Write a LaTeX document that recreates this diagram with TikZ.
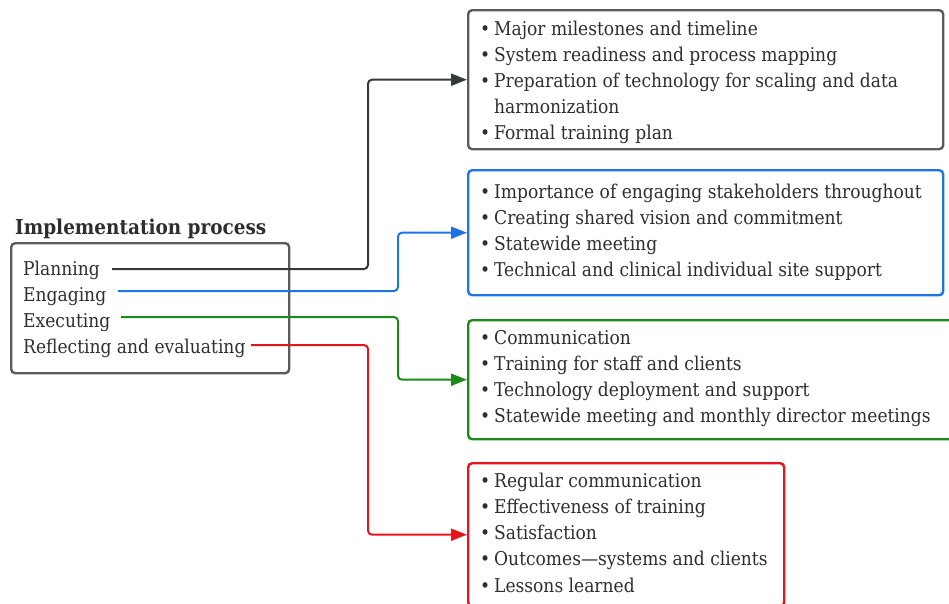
\documentclass[tikz,border=0pt]{standalone}
\usepackage{fontspec}
\setmainfont{DejaVu Serif Condensed}
\usetikzlibrary{arrows.meta}
\definecolor{txt}{HTML}{2E2E2E}
\definecolor{gbox}{HTML}{5A5A5A}
\definecolor{dconn}{HTML}{34393E}
\definecolor{bl}{HTML}{1E74E6}
\definecolor{gr}{HTML}{1A8A1A}
\definecolor{rd}{HTML}{E8141C}
\newcommand\mybul{\makebox[14pt][l]{•}}
\newcommand\itemfont{\fontsize{19}{26}\selectfont}
\begin{document}
\begin{tikzpicture}[x=1pt,y=-1pt,
  itm/.style={anchor=base west, inner sep=0pt, font=\itemfont, text=txt},
  box/.style={draw, line width=2.4pt, rounded corners=4pt, anchor=north west, inner sep=0pt},
  conn/.style={line width=2pt, rounded corners=4pt, -{Triangle[length=16pt,width=12pt]}}]
\useasboundingbox (0,0) rectangle (949,603);
% left box
\node[itm, font=\fontsize{20.5}{26}\selectfont\bfseries] (title) at (15,234) {Implementation process};
\node[box, gbox, minimum width=278pt, minimum height=130pt] (lbox) at (10,242) {};
\node[itm] (plan) at (23,275) {Planning};
\node[itm] (eng) at (23,301) {Engaging};
\node[itm] (exe) at (23,327) {Executing};
\node[itm] (ref) at (23,353) {Reflecting and evaluating};
% right boxes
\node[box, gbox, minimum width=475pt, minimum height=139pt] (box1) at (467,9) {};
\node[box, bl, minimum width=475pt, minimum height=125pt] (box2) at (467,169) {};
\node[box, gr, minimum width=500pt, minimum height=119pt] (box3) at (467,319) {};
\node[box, rd, minimum width=316pt, minimum height=143pt] (box4) at (467,462) {};
% box 1 text
\node[itm] (a1) at (480,35) {\mybul Major milestones and timeline};
\node[itm] (a2) at (480,61) {\mybul System readiness and process mapping};
\node[itm] (a3) at (480,87) {\mybul Preparation of technology for scaling and data};
\node[itm] (a4) at (494,113) {harmonization};
\node[itm] (a5) at (480,139) {\mybul Formal training plan};
% box 2 text
\node[itm] (b1) at (480,198) {\mybul Importance of engaging stakeholders throughout};
\node[itm] (b2) at (480,224) {\mybul Creating shared vision and commitment};
\node[itm] (b3) at (480,250) {\mybul Statewide meeting};
\node[itm] (b4) at (480,276) {\mybul Technical and clinical individual site support};
% box 3 text
\node[itm] (c1) at (480,344) {\mybul Communication};
\node[itm] (c2) at (480,370) {\mybul Training for staff and clients};
\node[itm] (c3) at (480,396) {\mybul Technology deployment and support};
\node[itm] (c4) at (480,422) {\mybul Statewide meeting and monthly director meetings};
% box 4 text
\node[itm] (d1) at (480,487) {\mybul Regular communication};
\node[itm] (d2) at (480,513) {\mybul Effectiveness of training};
\node[itm] (d3) at (480,539) {\mybul Satisfaction};
\node[itm] (d4) at (480,565) {\mybul Outcomes—systems and clients};
\node[itm] (d5) at (480,592) {\mybul Lessons learned};
% connectors
\coordinate (p0) at (112,269);
\coordinate (e0) at (118,291);
\coordinate (x0) at (121,317);
\coordinate (r0) at (251,345);
\draw[conn, dconn] (p0) -- ++(256,0) |- (box1.west);
\draw[conn, bl] (e0) -- ++(280,0) |- (box2.west);
\draw[conn, gr] (x0) -- ++(277,0) |- (box3.west);
\draw[conn, rd] (r0) -- ++(117,0) |- (box4.west);
\end{tikzpicture}
\end{document}
